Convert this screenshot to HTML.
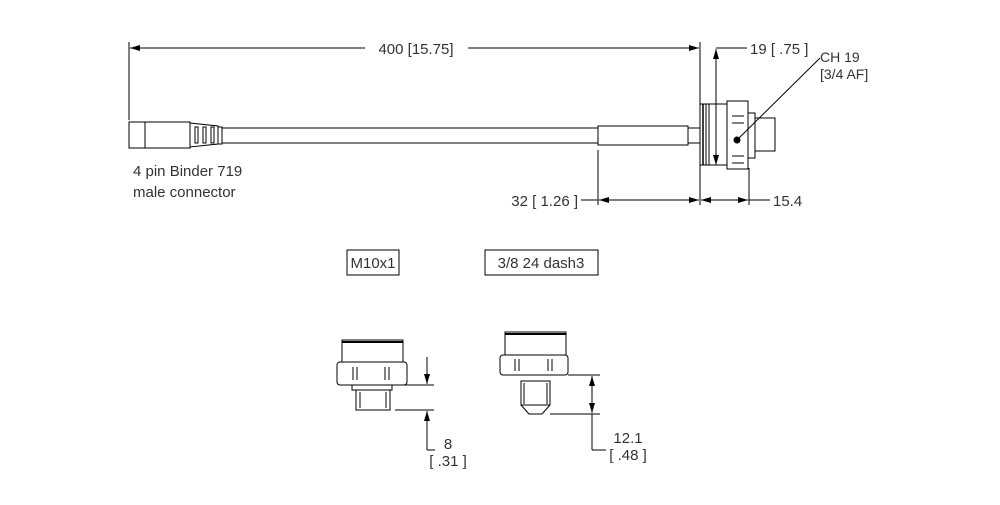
<!DOCTYPE html>
<html><head><meta charset="utf-8"><style>
body{margin:0;background:#fff;width:1000px;height:500px;overflow:hidden}
svg text{font-family:"Liberation Sans",sans-serif;fill:#333}
</style></head><body>
<svg width="1000" height="500" viewBox="0 0 1000 500" xmlns="http://www.w3.org/2000/svg">
<defs>
<marker id="a" markerWidth="10" markerHeight="6" refX="10" refY="3" orient="auto-start-reverse" markerUnits="userSpaceOnUse"><path d="M0,0 L10,3 L0,6z" fill="#000"/></marker>
</defs>
<g stroke="#000" stroke-width="1" fill="none">
<!-- top dim -->
<line x1="129" y1="42" x2="129" y2="120"/>
<line x1="700" y1="42" x2="700" y2="205"/>
<line x1="130" y1="48" x2="365" y2="48" marker-start="url(#a)"/>
<line x1="468" y1="48" x2="699" y2="48" marker-end="url(#a)"/>
<!-- connector -->
<rect x="129" y="122" width="61" height="26" fill="#fff"/>
<line x1="145" y1="122" x2="145" y2="148"/>
<path d="M190,123 L218,126 L218,144 L190,147z" fill="#fff"/>
<rect x="195" y="127" width="3" height="16"/><rect x="203" y="127" width="3" height="16"/><rect x="211" y="127" width="3" height="16"/>
<rect x="218" y="127" width="4" height="17"/>
<line x1="222" y1="128" x2="598" y2="128"/>
<line x1="222" y1="143" x2="598" y2="143"/>
<rect x="598" y="126" width="90" height="19" fill="#fff"/>
<rect x="688" y="128" width="12" height="15"/>
<!-- flange & nut -->
<rect x="700" y="104" width="27" height="61" fill="#fff"/>
<line x1="703" y1="104" x2="703" y2="165" stroke-width="1.5"/>
<line x1="706" y1="104" x2="706" y2="165"/>
<line x1="709" y1="104" x2="709" y2="165"/>
<rect x="727" y="101" width="21" height="68" fill="#fff"/>
<line x1="732" y1="116" x2="744" y2="116"/><line x1="732" y1="123" x2="744" y2="123"/>
<line x1="732" y1="156" x2="744" y2="156"/><line x1="732" y1="163" x2="744" y2="163"/>
<rect x="748" y="113" width="7" height="45"/>
<rect x="755" y="118" width="20" height="33" fill="#fff"/>
<circle cx="737" cy="140" r="3" fill="#000"/>
<line x1="737" y1="140" x2="820" y2="58"/>
<!-- 19 dim -->
<line x1="716" y1="48" x2="747" y2="48"/>
<line x1="716" y1="49" x2="716" y2="104" marker-start="url(#a)"/>
<line x1="716" y1="135" x2="716" y2="165" marker-end="url(#a)"/>
<line x1="716" y1="104" x2="716" y2="135"/>
<!-- bottom dims -->
<line x1="598" y1="150" x2="598" y2="205"/>
<line x1="749" y1="168" x2="749" y2="205"/>
<line x1="581" y1="200" x2="598" y2="200"/>
<line x1="599" y1="200" x2="699" y2="200" marker-start="url(#a)" marker-end="url(#a)"/>
<line x1="701" y1="200" x2="748" y2="200" marker-start="url(#a)" marker-end="url(#a)"/>
<line x1="749" y1="200" x2="770" y2="200"/>
<!-- boxes -->
<rect x="347" y="250" width="52" height="25"/>
<rect x="485" y="250" width="113" height="25"/>
<!-- left fitting -->
<rect x="342" y="340" width="61" height="22"/>
<line x1="342" y1="342" x2="403" y2="342" stroke-width="2"/>
<rect x="337" y="362" width="70" height="23" rx="3"/>
<line x1="353" y1="367" x2="353" y2="380"/><line x1="357" y1="367" x2="357" y2="380"/>
<line x1="385" y1="367" x2="385" y2="380"/><line x1="389" y1="367" x2="389" y2="380"/>
<rect x="352" y="385" width="40" height="5"/>
<rect x="356" y="390" width="34" height="20"/>
<line x1="360" y1="392" x2="360" y2="408"/><line x1="386" y1="392" x2="386" y2="408"/>
<line x1="400" y1="385" x2="434" y2="385"/>
<line x1="395" y1="410" x2="434" y2="410"/>
<line x1="427" y1="357" x2="427" y2="384" marker-end="url(#a)"/>
<line x1="427" y1="450" x2="427" y2="411" marker-end="url(#a)"/>
<line x1="427" y1="450" x2="435" y2="450"/>
<!-- right fitting -->
<rect x="505" y="332" width="61" height="23"/>
<line x1="505" y1="334" x2="566" y2="334" stroke-width="2"/>
<rect x="500" y="355" width="68" height="20" rx="3"/>
<line x1="515" y1="359" x2="515" y2="371"/><line x1="519" y1="359" x2="519" y2="371"/>
<line x1="548" y1="359" x2="548" y2="371"/><line x1="552" y1="359" x2="552" y2="371"/>
<path d="M521,381 L550,381 L550,405 L542,414 L529,414 L521,405z"/>
<line x1="524" y1="383" x2="524" y2="404"/><line x1="547" y1="383" x2="547" y2="404"/>
<line x1="521" y1="405" x2="550" y2="405"/>
<line x1="568" y1="375" x2="600" y2="375"/>
<line x1="550" y1="414" x2="600" y2="414"/>
<line x1="592" y1="395" x2="592" y2="376" marker-end="url(#a)"/>
<line x1="592" y1="395" x2="592" y2="413" marker-end="url(#a)"/>
<line x1="592" y1="414" x2="592" y2="450"/>
<line x1="592" y1="450" x2="606" y2="450"/>
</g>
<g font-size="15">
<text x="416" y="54" text-anchor="middle">400 [15.75]</text>
<text x="750" y="54">19 [ .75 ]</text>
<text x="820" y="62" font-size="14">CH 19</text>
<text x="820" y="79" font-size="14">[3/4 AF]</text>
<text x="578" y="206" text-anchor="end">32 [ 1.26 ]</text>
<text x="773" y="206">15.4</text>
<text x="133" y="176" fill="#111">4 pin Binder 719</text>
<text x="133" y="197" fill="#111">male connector</text>
<text x="373" y="268" text-anchor="middle">M10x1</text>
<text x="541" y="268" text-anchor="middle">3/8 24 dash3</text>
<text x="448" y="449" text-anchor="middle">8</text>
<text x="448" y="466" text-anchor="middle">[ .31 ]</text>
<text x="628" y="443" text-anchor="middle">12.1</text>
<text x="628" y="460" text-anchor="middle">[ .48 ]</text>
</g>
</svg>
</body></html>
